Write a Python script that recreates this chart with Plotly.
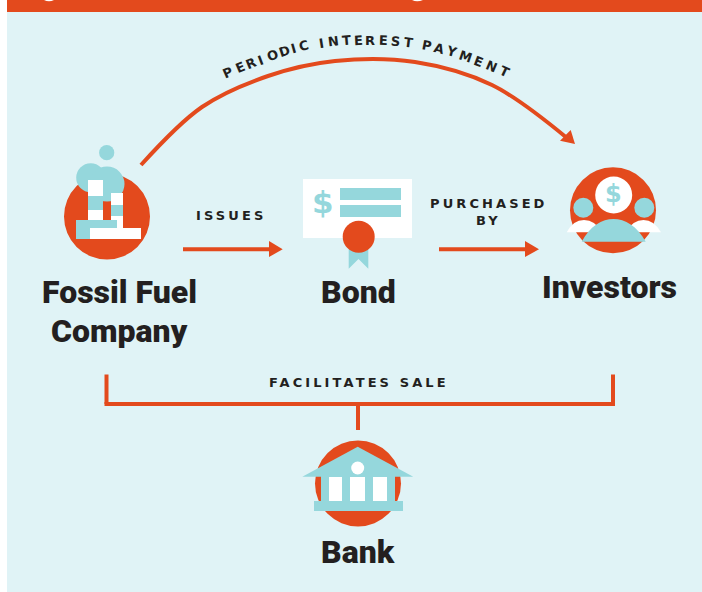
import plotly.graph_objects as go

ORANGE = "#e34a1d"
TEAL = "#95d7dc"
PANEL = "#e0f3f6"
INK = "#231f20"
WHITE = "#ffffff"

# --- diagram labels ---
head_labels = ["Fossil Fuel", "Company", "Bond", "Investors", "Bank"]
head_x = [119.5, 119.5, 358, 609.5, 358]
head_y = [292, 331, 292, 287, 552]
small_labels = ["ISSUES", "PURCHASED", "BY", "FACILITATES SALE"]
small_x = [231, 489, 488, 358.5]
small_y = [215, 203, 220, 382.5]
arc_letters = list("PERIODICINTERESTPAYMENT")
arc_x = [228.3, 240, 250.7, 260, 272.3, 284, 293.3, 304.3, 321.7, 333.3, 346, 358.3,
         370, 383.3, 395.7, 408.3, 426.7, 439, 451.7, 465, 478.3, 491.7, 504.3]
arc_y = [72.7, 67.7, 63.3, 60, 55, 51, 48.3, 45.7, 43.3, 41.7, 40.7, 40,
         40, 40, 41, 42.7, 45, 48.3, 51.7, 56.7, 61.7, 66.7, 71.7]
arc_rot = [-24, -23, -22, -21, -20, -18, -16, -14, -9, -7, -5, -3,
           0, 2, 5, 7, 11, 14, 16, 19, 21, 23, 25]
dollar_x = [323, 613]
dollar_y = [202, 193.5]
dollar_size = [31, 24]

# --- curved payment arrow ---
curve_x = [141, 202, 268, 335, 415, 492, 567]
curve_y = [165, 107, 76, 61, 62, 85, 138]

# --- filled marks (colour, x0, y0, x1, y1) ---
panel_rects = [(WHITE, 0, 0, 7, 592), (PANEL, 7, 0, 702, 592), (ORANGE, 7, 0, 702, 12)]
factory_circles = [(ORANGE, 107, 216.5, 43), (TEAL, 106.7, 152.7, 7.6),
                   (TEAL, 90.7, 177.7, 14.5), (TEAL, 107, 184, 17.5)]
factory_rects = [(WHITE, 88, 180, 103, 196), (TEAL, 88, 196, 103, 210), (WHITE, 88, 210, 103, 220),
                 (WHITE, 111, 193, 123, 205), (TEAL, 111, 205, 123, 216), (WHITE, 111, 216, 123, 228),
                 (TEAL, 76, 220, 117, 239), (WHITE, 90, 228, 141, 239)]
bond_rects = [(WHITE, 303, 179, 412, 238), (TEAL, 340, 188, 401, 200), (TEAL, 340, 205, 401, 217)]
investor_circles = [(ORANGE, 613, 210.3, 43), (WHITE, 613.7, 195, 18.5),
                    (TEAL, 583.3, 207.7, 10), (TEAL, 644.3, 207.7, 10)]
bank_circle = (ORANGE, 358, 483.4, 43)
bank_rects = [(TEAL, 321, 476, 395, 501), (WHITE, 329, 477, 342, 501), (WHITE, 350, 477, 365, 501),
              (WHITE, 373, 477, 387, 501), (TEAL, 314, 501, 403, 511)]
bank_dot = (WHITE, 357.7, 468, 6.5)
straight_lines = [(183, 249.3, 270, 249.3), (439, 249.3, 526, 249.3), (106.5, 374.5, 106.5, 404),
                  (613, 374.5, 613, 404), (104.5, 404, 615, 404), (358, 404, 358, 430)]
triangles = [
    (ORANGE, [(269, 241), (282.7, 249.3), (269, 257)]),
    (ORANGE, [(525, 241), (539, 249.3), (525, 257)]),
    (ORANGE, [(560, 140.7), (570.7, 130), (575, 144)]),
    (TEAL, [(348.7, 240), (368.3, 240), (368.3, 268.7), (358.5, 259), (348.7, 268.7)]),
    (TEAL, [(357.7, 446.7), (413.3, 476.7), (302.3, 476.7)]),
]
shoulder_paths = [
    (WHITE, "M 566.7,232.3 Q 573,220 584,220 Q 595,220 602,232.3 Z"),
    (WHITE, "M 661,232.3 Q 654,220 643.5,220 Q 633,220 625,232.3 Z"),
    (TEAL, "M 581.7,241.7 C 590,226 602,219 613.5,219 C 625,219 637,226 645.7,241.7 Z"),
]
title_fragments = [(WHITE, "M 44,0 Q 49,2.5 54,0 Z"), (WHITE, "M 412,0 Q 417,2.5 423,0 Z")]


def rect(c):
    return dict(type="rect", xref="x", yref="y", x0=c[1], y0=c[2], x1=c[3], y1=c[4],
                fillcolor=c[0], line_width=0, layer="above")


def circle(c):
    return dict(type="circle", xref="x", yref="y", x0=c[1] - c[3], y0=c[2] - c[3],
                x1=c[1] + c[3], y1=c[2] + c[3], fillcolor=c[0], line_width=0, layer="above")


def path(color, d):
    return dict(type="path", xref="x", yref="y", path=d, fillcolor=color, line_width=0, layer="above")


def poly(color, pts):
    d = "M " + " L ".join(f"{x},{y}" for x, y in pts) + " Z"
    return path(color, d)


shapes = [dict(rect(c), layer="below") for c in panel_rects]
shapes += [dict(path(c, d), layer="below") for c, d in title_fragments]
shapes += [circle(c) for c in factory_circles] + [rect(c) for c in factory_rects]
shapes += [rect(c) for c in bond_rects]
shapes += [poly(*triangles[3])]
shapes += [circle((ORANGE, 358.7, 236.7, 16))]
shapes += [circle(c) for c in investor_circles]
shapes += [path(c, d) for c, d in shoulder_paths]
shapes += [circle(bank_circle), poly(*triangles[4])] + [rect(c) for c in bank_rects] + [circle(bank_dot)]
shapes += [poly(*t) for t in triangles[:3]]
shapes += [dict(type="line", xref="x", yref="y", x0=a, y0=b, x1=c, y1=d, layer="above",
                line=dict(color=ORANGE, width=4)) for a, b, c, d in straight_lines]

annotations = []
for t, x, y in zip(head_labels, head_x, head_y):
    annotations.append(dict(text=t, x=x, y=y, xref="x", yref="y", showarrow=False,
                            xanchor="center", yanchor="middle",
                            font=dict(family="Roboto", size=32, color=INK, weight=900)))
for t, x, y in zip(small_labels, small_x, small_y):
    annotations.append(dict(text=f'<span style="letter-spacing:3.1px"><b>{t}</b></span>', x=x, y=y,
                            xref="x", yref="y", showarrow=False, xanchor="center", yanchor="middle",
                            font=dict(family="DejaVu Sans", size=13, color=INK)))
for t, x, y, r in zip(arc_letters, arc_x, arc_y, arc_rot):
    annotations.append(dict(text=f"<b>{t}</b>", x=x, y=y, xref="x", yref="y", showarrow=False,
                            xanchor="center", yanchor="middle", textangle=r,
                            font=dict(family="DejaVu Sans", size=13, color=INK)))
for x, y, s in zip(dollar_x, dollar_y, dollar_size):
    annotations.append(dict(text="<b>$</b>", x=x, y=y, xref="x", yref="y", showarrow=False,
                            xanchor="center", yanchor="middle",
                            font=dict(family="DejaVu Sans", size=s, color=TEAL)))

fig = go.Figure(go.Scatter(x=curve_x, y=curve_y, mode="lines", hoverinfo="skip",
                           line=dict(color=ORANGE, width=4, shape="spline", smoothing=1)))
fig.update_layout(
    width=702, height=592, autosize=False, margin=dict(l=0, r=0, t=0, b=0),
    paper_bgcolor=WHITE, plot_bgcolor=PANEL, showlegend=False,
    xaxis=dict(range=[0, 702], visible=False, fixedrange=True),
    yaxis=dict(range=[592, 0], visible=False, fixedrange=True),
    shapes=shapes, annotations=annotations,
)
fig.write_html("out.html", config=dict(displayModeBar=False),
               post_script="document.body.style.margin='0';document.body.style.overflow='hidden';")
